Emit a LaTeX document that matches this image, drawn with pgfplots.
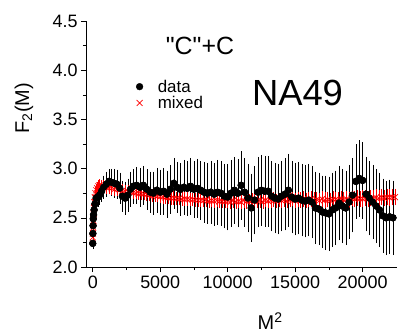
\documentclass[border=0pt]{standalone}
\usepackage{pgfplots}
\pgfplotsset{compat=1.18}
\usepackage{pgfplotstable}
\usepackage{fontspec}
\setmainfont{Liberation Sans}
\newfontfamily\plainsans{Liberation Sans}[Ligatures=TeXOff]

\pgfplotstableread{
x y e
0 2.24 0.03
10 2.34 0.03
25 2.42 0.03
40 2.49 0.04
60 2.53 0.04
100 2.58 0.04
160 2.64 0.05
250 2.70 0.06
380 2.71 0.07
500 2.73 0.07
650 2.77 0.08
800 2.81 0.09
1000 2.84 0.10
1200 2.87 0.10
1400 2.86 0.11
1600 2.85 0.12
1800 2.84 0.12
2000 2.80 0.13
2200 2.72 0.13
2400 2.70 0.14
2600 2.73 0.14
2800 2.79 0.15
3000 2.82 0.15
3250 2.83 0.16
3500 2.81 0.17
3750 2.83 0.17
4000 2.79 0.18
4250 2.76 0.18
4500 2.75 0.19
4750 2.78 0.20
5000 2.76 0.20
5250 2.77 0.21
5500 2.74 0.21
5750 2.79 0.22
6000 2.85 0.23
6250 2.81 0.23
6500 2.79 0.24
6750 2.81 0.25
7000 2.80 0.25
7250 2.82 0.26
7500 2.79 0.26
7750 2.80 0.27
8000 2.78 0.27
8250 2.76 0.28
8500 2.75 0.28
8750 2.76 0.29
9000 2.74 0.29
9250 2.76 0.30
9500 2.75 0.30
9750 2.72 0.30
10000 2.71 0.31
10250 2.75 0.31
10500 2.78 0.31
10750 2.75 0.32
11000 2.83 0.32
11250 2.76 0.32
11500 2.70 0.32
11750 2.60 0.32
12000 2.68 0.32
12250 2.76 0.33
12500 2.78 0.33
12750 2.77 0.33
13000 2.77 0.33
13250 2.72 0.33
13500 2.70 0.33
13750 2.69 0.33
14000 2.72 0.33
14250 2.74 0.34
14500 2.78 0.34
14750 2.71 0.34
15000 2.69 0.34
15250 2.70 0.34
15500 2.68 0.34
15750 2.67 0.34
16000 2.68 0.34
16250 2.66 0.34
16500 2.60 0.34
16750 2.59 0.34
17000 2.56 0.34
17250 2.55 0.35
17500 2.54 0.35
17750 2.58 0.35
18000 2.60 0.35
18250 2.65 0.35
18500 2.62 0.35
18750 2.60 0.35
19000 2.66 0.35
19250 2.73 0.35
19500 2.87 0.35
19750 2.90 0.36
20000 2.88 0.36
20250 2.74 0.35
20500 2.70 0.35
20750 2.66 0.35
21000 2.62 0.35
21250 2.58 0.35
21500 2.52 0.35
21750 2.50 0.35
22000 2.51 0.35
22250 2.50 0.35
}\datatab

\pgfplotstableread{
x y e
0 2.30 0.035
15 2.34 0.035
30 2.40 0.035
50 2.47 0.035
70 2.54 0.035
90 2.60 0.035
120 2.66 0.035
150 2.71 0.035
200 2.75 0.035
260 2.78 0.035
330 2.80 0.035
420 2.82 0.035
500 2.83 0.035
600 2.825 0.035
800 2.82 0.035
1000 2.81 0.035
1200 2.805 0.035
1400 2.80 0.035
1600 2.79 0.035
1800 2.79 0.035
2000 2.78 0.035
2200 2.775 0.035
2400 2.77 0.035
2600 2.765 0.035
2800 2.76 0.035
3000 2.755 0.035
3200 2.75 0.035
3400 2.745 0.035
3600 2.745 0.035
3800 2.74 0.035
4000 2.735 0.035
4200 2.73 0.035
4400 2.725 0.035
4600 2.725 0.035
4800 2.72 0.035
5000 2.715 0.04
5200 2.71 0.04
5400 2.705 0.04
5600 2.705 0.04
5800 2.70 0.04
6000 2.70 0.04
6200 2.695 0.04
6400 2.695 0.04
6600 2.69 0.04
6800 2.69 0.04
7000 2.69 0.04
7200 2.685 0.04
7400 2.685 0.04
7600 2.68 0.04
7800 2.68 0.04
8000 2.68 0.04
8200 2.675 0.04
8400 2.68 0.04
8600 2.67 0.04
8800 2.675 0.04
9000 2.67 0.04
9200 2.675 0.04
9400 2.665 0.04
9600 2.67 0.04
9800 2.665 0.04
10000 2.67 0.045
10200 2.66 0.045
10400 2.675 0.045
10600 2.665 0.045
10800 2.67 0.045
11000 2.66 0.045
11200 2.675 0.045
11400 2.665 0.045
11600 2.67 0.045
11800 2.68 0.045
12000 2.665 0.045
12200 2.67 0.045
12400 2.675 0.045
12600 2.665 0.045
12800 2.68 0.045
13000 2.67 0.045
13200 2.675 0.045
13400 2.685 0.045
13600 2.67 0.045
13800 2.68 0.045
14000 2.675 0.045
14200 2.685 0.045
14400 2.67 0.045
14600 2.68 0.045
14800 2.69 0.045
15000 2.675 0.05
15200 2.685 0.05
15400 2.68 0.05
15600 2.69 0.05
15800 2.675 0.05
16000 2.685 0.05
16200 2.69 0.05
16400 2.68 0.05
16600 2.685 0.05
16800 2.675 0.05
17000 2.69 0.05
17200 2.68 0.05
17400 2.685 0.05
17600 2.675 0.05
17800 2.69 0.05
18000 2.685 0.05
18200 2.68 0.05
18400 2.695 0.05
18600 2.685 0.05
18800 2.69 0.05
19000 2.68 0.05
19200 2.695 0.05
19400 2.69 0.05
19600 2.70 0.05
19800 2.69 0.05
20000 2.695 0.055
20200 2.70 0.055
20400 2.69 0.055
20600 2.70 0.055
20800 2.695 0.055
21000 2.705 0.055
21200 2.70 0.055
21400 2.71 0.055
21600 2.70 0.055
21800 2.71 0.055
22000 2.705 0.055
22200 2.71 0.055
22400 2.71 0.055
}\mixtab

\begin{document}
\begin{tikzpicture}
\useasboundingbox (-86bp,-69bp) rectangle (317bp,267bp);
\begin{axis}[
  at={(0,0)}, anchor=south west,
  scale only axis, width=311bp, height=246bp,
  xmin=-500, xmax=22550, ymin=2.0, ymax=4.5,
  axis x line*=bottom, axis y line*=left,
  axis line style={-, black, line width=0.6pt},
  xtick={0,5000,10000,15000,20000},
  ytick={2.0,2.5,3.0,3.5,4.0,4.5},
  minor x tick num=1, minor y tick num=1,
  tick align=outside,
  major tick length=5bp, minor tick length=3bp,
  tick style={black, line width=0.6pt},
  scaled x ticks=false,
  /pgf/number format/assume math mode=true,
  tick label style={font=\fontsize{18}{20}\selectfont},
  xticklabel style={/pgf/number format/1000 sep={}},
  yticklabel style={/pgf/number format/fixed, /pgf/number format/fixed zerofill, /pgf/number format/precision=1},
  xlabel={M\textsuperscript{2}},
  ylabel={F\textsubscript{2}(M)},
  label style={font=\fontsize{20}{22}\selectfont},
  xlabel style={at={(axis description cs:0.592,-0.256)}, anchor=base},
  ylabel style={at={(axis description cs:-0.183,0.646)}, anchor=base},
  legend style={at={(axis description cs:0.155,0.77)}, anchor=north west, draw=none, fill=none,
    font=\fontsize{17}{18}\selectfont, row sep=-1.5bp, inner sep=0pt},
  legend image code/.code={\draw[#1] plot coordinates {(0bp,0bp)}; \path (-5bp,0bp) (16bp,0bp);},
  legend cell align=left,
  clip=false,
]
\addplot[only marks, mark=*, mark size=3.4bp, black,
  error bars/.cd, y dir=both, y explicit,
  error bar style={black, line width=0.4pt},
  error mark options={black, mark size=2.8bp, line width=0.4pt}]
  table[x=x, y=y, y error=e] {\datatab};
\addlegendentry{data}
\addplot[only marks, mark=x, mark size=4.2bp, red, mark options={line width=0.7pt},
  error bars/.cd, y dir=both, y explicit,
  error bar style={red, line width=0.45pt},
  error mark options={red, mark size=2.8bp, line width=0.45pt}]
  table[x=x, y=y, y error=e] {\mixtab};
\addlegendentry{mixed}
\addplot[only marks, mark=*, mark size=3.4bp, black, forget plot]
  table[x=x, y=y] {\datatab};
\end{axis}
\node[anchor=base, font=\plainsans\fontsize{25}{27}\selectfont] at (114bp,212bp) {"C"+C};
\node[anchor=base, font=\fontsize{36.5}{38}\selectfont] at (211.5bp,161bp) {NA49};
\end{tikzpicture}
\end{document}
